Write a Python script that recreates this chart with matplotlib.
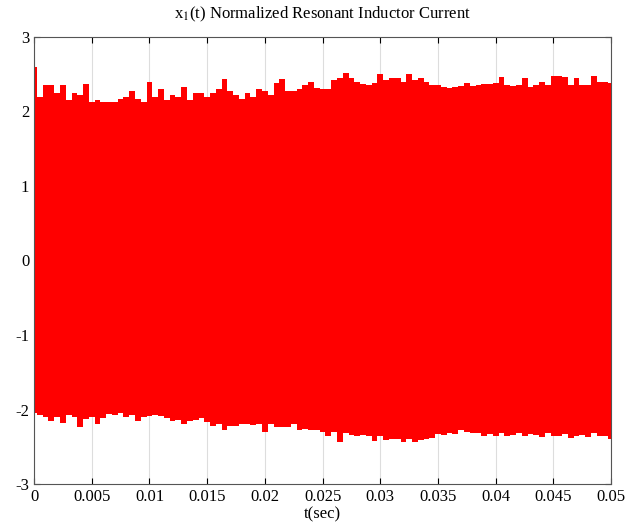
import numpy as np
import matplotlib.pyplot as plt

plt.rcParams['font.family'] = 'Liberation Serif'
plt.rcParams['mathtext.fontset'] = 'stix'
plt.rcParams['axes.unicode_minus'] = False

t = np.linspace(0, 0.05, 101)

upper = [2.6, 2.2, 2.35, 2.35, 2.25, 2.35, 2.15, 2.25, 2.22, 2.37,
         2.13, 2.15, 2.12, 2.13, 2.12, 2.17, 2.2, 2.27, 2.17, 2.13,
         2.4, 2.2, 2.3, 2.15, 2.22, 2.2, 2.33, 2.15, 2.25, 2.25,
         2.2, 2.25, 2.3, 2.43, 2.27, 2.22, 2.17, 2.25, 2.2, 2.3,
         2.27, 2.22, 2.38, 2.43, 2.28, 2.28, 2.3, 2.35, 2.4, 2.32,
         2.3, 2.3, 2.42, 2.45, 2.52, 2.45, 2.4, 2.37, 2.35, 2.38,
         2.5, 2.42, 2.45, 2.45, 2.4, 2.5, 2.42, 2.45, 2.4, 2.36,
         2.35, 2.33, 2.31, 2.33, 2.34, 2.38, 2.34, 2.35, 2.37, 2.37,
         2.38, 2.46, 2.36, 2.34, 2.35, 2.45, 2.33, 2.36, 2.4, 2.36,
         2.48, 2.47, 2.46, 2.36, 2.45, 2.35, 2.36, 2.47, 2.39, 2.4,
         2.38]

lower = [-2.05, -2.07, -2.1, -2.16, -2.1, -2.18, -2.08, -2.1, -2.24, -2.13,
         -2.1, -2.2, -2.12, -2.06, -2.08, -2.05, -2.1, -2.08, -2.15, -2.1,
         -2.09, -2.08, -2.09, -2.12, -2.15, -2.14, -2.2, -2.16, -2.14, -2.12,
         -2.17, -2.22, -2.2, -2.27, -2.22, -2.22, -2.19, -2.2, -2.21, -2.2,
         -2.3, -2.2, -2.23, -2.24, -2.23, -2.2, -2.27, -2.26, -2.28, -2.27,
         -2.3, -2.35, -2.3, -2.44, -2.32, -2.34, -2.36, -2.34, -2.36, -2.42,
         -2.36, -2.41, -2.4, -2.4, -2.43, -2.4, -2.43, -2.41, -2.4, -2.38,
         -2.33, -2.34, -2.32, -2.33, -2.28, -2.3, -2.32, -2.31, -2.35, -2.33,
         -2.36, -2.32, -2.35, -2.34, -2.31, -2.36, -2.33, -2.34, -2.37, -2.31,
         -2.35, -2.36, -2.33, -2.38, -2.35, -2.34, -2.37, -2.32, -2.35, -2.36,
         -2.39]

xticks = [0, 0.005, 0.01, 0.015, 0.02, 0.025, 0.03, 0.035, 0.04, 0.045, 0.05]
xticklabels = ['0', '0.005', '0.01', '0.015', '0.02', '0.025', '0.03',
               '0.035', '0.04', '0.045', '0.05']
yticks = [-3, -2, -1, 0, 1, 2, 3]

fig = plt.figure(figsize=(6.36, 5.26), dpi=100)
ax = fig.add_axes([0.0535, 0.0798, 0.9075, 0.85])

ax.fill_between(t, lower, upper, step='mid', color='#ff0000', linewidth=0)

ax.set_xlim(0, 0.05)
ax.set_ylim(-3, 3)
ax.set_xticks(xticks)
ax.set_xticklabels(xticklabels)
ax.set_yticks(yticks)
ax.xaxis.grid(True, color='#dddddd', linewidth=0.8)
ax.set_axisbelow(True)
ax.tick_params(direction='in', top=True, right=True, labelsize=12, length=4)
for s in ax.spines.values():
    s.set_color('#555555')

ax.set_xlabel('t(sec)', fontsize=12, labelpad=1)
ax.set_title('x$_1$(t) Normalized Resonant Inductor Current', fontsize=12, pad=13)

fig.savefig('out.png', dpi=100)
